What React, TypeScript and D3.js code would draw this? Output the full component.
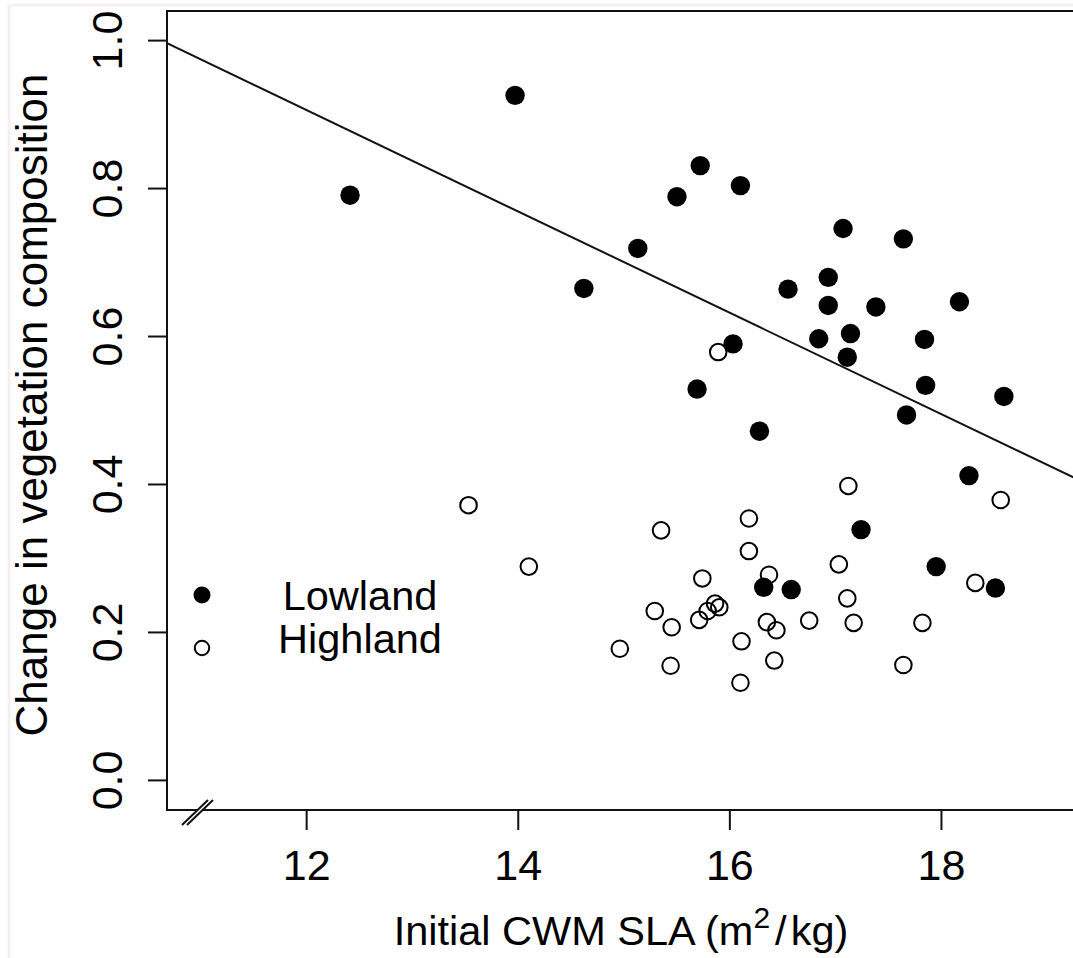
import React from "react";
import * as d3 from "d3";

const lowlandX = [12.41, 13.97, 14.62, 15.13, 15.50, 15.72, 16.10, 17.07, 17.64, 16.55, 16.93, 16.93, 17.38, 18.17, 16.03, 16.84, 17.14, 17.11, 15.69, 16.28, 17.84, 17.85, 17.67, 18.59, 18.26, 17.24, 17.95, 18.51, 16.32, 16.58];
const lowlandY = [0.791, 0.926, 0.665, 0.719, 0.789, 0.831, 0.804, 0.746, 0.732, 0.664, 0.680, 0.642, 0.640, 0.647, 0.590, 0.597, 0.604, 0.572, 0.529, 0.472, 0.596, 0.534, 0.494, 0.519, 0.412, 0.339, 0.289, 0.260, 0.261, 0.258];

const highlandX = [13.53, 14.10, 15.89, 17.12, 18.56, 18.32, 17.82, 17.64, 15.35, 16.18, 16.18, 17.03, 16.37, 15.74, 17.11, 15.86, 15.90, 15.79, 15.29, 15.71, 15.45, 16.35, 16.44, 16.75, 17.17, 16.11, 14.96, 15.44, 16.42, 16.10];
const highlandY = [0.372, 0.289, 0.579, 0.398, 0.379, 0.267, 0.213, 0.156, 0.338, 0.354, 0.310, 0.292, 0.278, 0.273, 0.246, 0.239, 0.234, 0.229, 0.229, 0.217, 0.207, 0.214, 0.203, 0.216, 0.213, 0.188, 0.178, 0.155, 0.162, 0.132];

const xTicks = [12, 14, 16, 18];
const yTicks = [0, 0.2, 0.4, 0.6, 0.8, 1.0];
const xLim = [11, 19];
const yLim = [0, 1];
const fitIntercept = 1.728;
const fitSlope = -0.0685;

const legendLabels = ["Lowland", "Highland"];

const FONT = "'Liberation Sans', Arial, Helvetica, sans-serif";

export default function App() {
  const W = 1073;
  const H = 958;
  const left = 167;
  const top = 11;
  const bottom = 810;
  const xPad = (xLim[1] - xLim[0]) * 0.04;
  const yPad = (yLim[1] - yLim[0]) * 0.04;
  const xDom: [number, number] = [xLim[0] - xPad, xLim[1] + xPad];
  const yDom: [number, number] = [yLim[0] - yPad, yLim[1] + yPad];
  const right = left + (xDom[1] - xDom[0]) * 105.8;

  const x = d3.scaleLinear().domain(xDom).range([left, right]);
  const y = d3.scaleLinear().domain(yDom).range([bottom, top]);

  const lineGen = d3
    .line<number>()
    .x((d) => x(d))
    .y((d) => y(fitIntercept + fitSlope * d));
  const fitPath = lineGen([xDom[0], xDom[1]]) || "";

  const low = lowlandX.map((v, i) => [v, lowlandY[i]]);
  const high = highlandX.map((v, i) => [v, highlandY[i]]);

  // axis break slashes
  const bx = left + 15;
  const by = bottom;

  return (
    <svg
      width={W}
      height={H}
      style={{ position: "absolute", left: 0, top: 0, background: "#fff" }}
      fontFamily={FONT}
    >
      <rect x={0} y={0} width={W} height={H} fill="#fff" />
      <line x1={9} y1={5} x2={W} y2={5} stroke="#f7eef0" strokeWidth={3} />
      <line x1={9} y1={5} x2={9} y2={H} stroke="#f7eef0" strokeWidth={3} />
      <defs>
        <clipPath id="plotclip">
          <rect x={left} y={top} width={right - left} height={bottom - top} />
        </clipPath>
      </defs>

      {/* frame */}
      <rect
        x={left}
        y={top}
        width={right - left}
        height={bottom - top}
        fill="none"
        stroke="#111"
        strokeWidth={2}
      />

      {/* axis break */}
      <polygon
        points={`${bx},${by + 15} ${bx + 26},${by - 10} ${bx + 31},${by - 10} ${bx + 5},${by + 15}`}
        fill="#fff"
        stroke="none"
      />
      <line x1={bx} y1={by + 15} x2={bx + 26} y2={by - 10} stroke="#111" strokeWidth={2} />
      <line x1={bx + 5} y1={by + 15} x2={bx + 31} y2={by - 10} stroke="#111" strokeWidth={2} />

      {/* x axis ticks */}
      {xTicks.map((t) => (
        <g key={"xt" + t}>
          <line x1={x(t)} x2={x(t)} y1={bottom} y2={bottom + 20} stroke="#111" strokeWidth={2} />
          <text x={x(t)} y={880} fontSize={43} textAnchor="middle" fill="#000">
            {t}
          </text>
        </g>
      ))}

      {/* y axis ticks */}
      {yTicks.map((t) => (
        <g key={"yt" + t}>
          <line x1={left - 19} x2={left} y1={y(t)} y2={y(t)} stroke="#111" strokeWidth={2} />
          <text
            transform={`translate(122,${y(t)}) rotate(-90)`}
            fontSize={43}
            textAnchor="middle"
            fill="#000"
          >
            {t.toFixed(1)}
          </text>
        </g>
      ))}

      {/* fit line */}
      <path d={fitPath} stroke="#111" strokeWidth={2} fill="none" clipPath="url(#plotclip)" />

      {/* points */}
      {high.map((p, i) => (
        <circle
          key={"h" + i}
          cx={x(p[0])}
          cy={y(p[1])}
          r={8.3}
          fill="none"
          stroke="#000"
          strokeWidth={2}
        />
      ))}
      {low.map((p, i) => (
        <circle key={"l" + i} cx={x(p[0])} cy={y(p[1])} r={9.7} fill="#000" />
      ))}

      {/* legend */}
      <circle cx={202} cy={595} r={8.5} fill="#000" />
      <circle cx={202} cy={648} r={7.2} fill="none" stroke="#000" strokeWidth={2} />
      <text x={360} y={610} fontSize={41.5} textAnchor="middle" fill="#000">
        {legendLabels[0]}
      </text>
      <text x={360} y={653} fontSize={41.5} textAnchor="middle" fill="#000">
        {legendLabels[1]}
      </text>

      {/* axis titles */}
      <text x={621} y={945} fontSize={41.5} textAnchor="middle" fill="#000">
        <tspan>Initial CWM SLA (m</tspan>
        <tspan dy={-17} fontSize={30}>2</tspan>
        <tspan dy={17} dx={5}>/</tspan>
        <tspan dx={4}>kg)</tspan>
      </text>
      <text
        transform={`translate(47,405) rotate(-90)`}
        fontSize={44}
        textAnchor="middle"
        fill="#000"
      >
        Change in vegetation composition
      </text>
    </svg>
  );
}
